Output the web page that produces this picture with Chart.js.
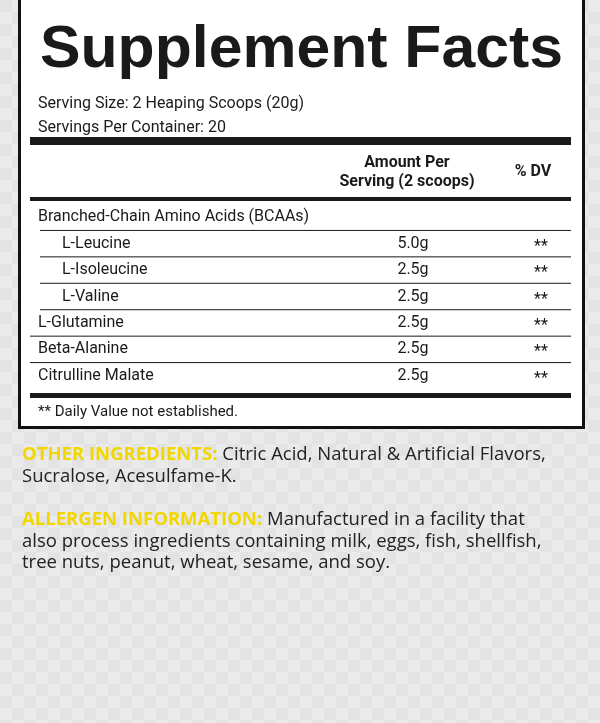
<!DOCTYPE html>
<html>
<head>
<meta charset="utf-8">
<script src="https://cdn.jsdelivr.net/npm/chart.js@4"></script>
<style>
  html, body { margin: 0; padding: 0; background: #e7e7e7; }
  #wrap { width: 600px; height: 723px; }
</style>
</head>
<body>
<div id="wrap"><canvas id="facts" width="600" height="723"></canvas></div>
<script>
// Label data
const ingredients = ['Branched-Chain Amino Acids (BCAAs)', 'L-Leucine', 'L-Isoleucine', 'L-Valine', 'L-Glutamine', 'Beta-Alanine', 'Citrulline Malate'];
const amounts = [null, 5.0, 2.5, 2.5, 2.5, 2.5, 2.5];
const indented = [false, true, true, true, false, false, false];
const dailyValue = ['', '**', '**', '**', '**', '**', '**'];

const otherIngredients = ['Citric Acid, Natural & Artificial Flavors,', 'Sucralose, Acesulfame-K.'];
const allergenInfo = ['Manufactured in a facility that', 'also process ingredients containing milk, eggs, fish, shellfish,', 'tree nuts, peanut, wheat, sesame, and soy.'];

const body = '"Roboto", "Liberation Sans", sans-serif';

// Draws the label around the chart area; rows are positioned by the y scale
const labelPlugin = {
    id: 'label',
    beforeDraw(chart) {
        const c = chart.ctx;
        c.save();
        // carbon-ish background
        c.fillStyle = '#e6e6e6';
        c.fillRect(0, 0, 600, 723);
        for (let y = 0; y < 723; y += 12) {
            for (let x = 0; x < 600; x += 12) {
                c.fillStyle = ((x + y) / 12) % 2 ? '#eaeaea' : '#e3e3e3';
                c.fillRect(x, y, 12, 12);
            }
        }
        // panel
        c.fillStyle = '#fff';
        c.fillRect(18, -4, 567, 432);
        c.lineWidth = 3;
        c.strokeStyle = '#111';
        c.strokeRect(19.5, -4, 564, 431.5);
        c.restore();
    },
    afterDraw(chart) {
        const c = chart.ctx;
        const yScale = chart.scales.y;
        c.save();
        c.fillStyle = '#1a1a1a';
        c.textBaseline = 'middle';

        // title
        c.font = 'bold 60px "Liberation Sans", sans-serif';
        const tw = c.measureText('Supplement Facts').width;
        c.save();
        c.translate(40, 50);
        c.scale(523 / tw, 1);
        c.fillText('Supplement Facts', 0, 0);
        c.restore();

        c.font = '16px ' + body;
        c.fillText('Serving Size: 2 Heaping Scoops (20g)', 38, 104);
        c.fillText('Servings Per Container: 20', 38, 128);

        c.fillRect(30, 137, 541, 8);
        c.font = 'bold 16px ' + body;
        c.textAlign = 'center';
        c.fillText('Amount Per', 407, 163);
        c.fillText('Serving (2 scoops)', 407, 182);
        c.fillText('% DV', 533, 172);
        c.fillRect(30, 197, 541, 4);

        // rows
        const step = yScale.getPixelForValue(1) - yScale.getPixelForValue(0);
        c.font = '16px ' + body;
        ingredients.forEach((name, i) => {
            const y = yScale.getPixelForValue(i);
            c.textAlign = 'left';
            c.fillText(name, indented[i] ? 62 : 38, y);
            c.textAlign = 'center';
            if (amounts[i] !== null) c.fillText(amounts[i].toFixed(1) + 'g', 413, y);
            c.fillText(dailyValue[i], 541, y + 3);
            if (i < ingredients.length - 1) {
                const x0 = indented[i] || i === 0 ? 40 : 30;
                c.fillRect(x0, y + step / 2 - 0.5, 571 - x0, 1);
            }
        });
        c.fillRect(30, 393, 541, 5);
        c.textAlign = 'left';
        c.font = '15px ' + body;
        c.fillText('** Daily Value not established.', 38, 412);

        // lower text
        const drawBlock = (head, lines, y) => {
            c.font = 'bold 18.5px "Open Sans", sans-serif';
            c.fillStyle = '#f2d600';
            c.fillText(head, 22, y);
            const hw = c.measureText(head + ' ').width;
            c.font = '18.5px "Open Sans", sans-serif';
            c.fillStyle = '#222';
            lines.forEach((l, k) => c.fillText(l, k === 0 ? 22 + hw : 22, y + k * 21.5));
        };
        drawBlock('OTHER INGREDIENTS:', otherIngredients, 455);
        drawBlock('ALLERGEN INFORMATION:', allergenInfo, 520);
        c.restore();
    }
};

new Chart(document.getElementById('facts'), {
    type: 'bar',
    data: {
        labels: ingredients,
        datasets: [{ data: amounts, backgroundColor: 'rgba(0,0,0,0)' }]
    },
    options: {
        indexAxis: 'y',
        responsive: false,
        animation: false,
        layout: { padding: { top: 204, bottom: 334, left: 30, right: 29 } },
        plugins: { legend: { display: false }, tooltip: { enabled: false } },
        scales: {
            x: { display: false, min: 0, max: 10 },
            y: { display: false, offset: true }
        }
    },
    plugins: [labelPlugin]
});
</script>
</body>
</html>
